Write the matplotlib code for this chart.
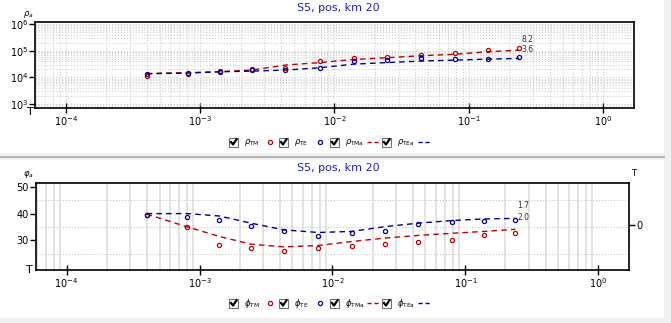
import matplotlib
matplotlib.use("Agg")
import matplotlib.pyplot as plt
from matplotlib.patches import Rectangle
from matplotlib.lines import Line2D
from matplotlib.ticker import LogLocator, FixedLocator, NullFormatter

# ---------------- data ----------------
periods = [4.0e-4, 8.1e-4, 1.41e-3, 2.44e-3, 4.3e-3, 7.8e-3,
           1.39e-2, 2.48e-2, 4.4e-2, 7.9e-2, 0.138, 0.237]
rho_tm = [1.1e4, 1.35e4, 1.7e4, 2.0e4, 2.3e4, 4.1e4,
          5.5e4, 6.0e4, 6.8e4, 8.4e4, 1.05e5, 1.3e5]
rho_te = [1.35e4, 1.4e4, 1.63e4, 1.83e4, 1.83e4, 2.3e4,
          4.1e4, 4.45e4, 5.15e4, 4.7e4, 5.0e4, 6.0e4]
rho_tma = [1.4e4, 1.5e4, 1.63e4, 1.9e4, 2.9e4, 3.6e4,
           4.7e4, 5.5e4, 6.5e4, 7.4e4, 9.2e4, 1.05e5]
rho_tea = [1.37e4, 1.45e4, 1.63e4, 1.72e4, 1.88e4, 2.3e4,
           3.15e4, 3.6e4, 4.1e4, 4.45e4, 4.85e4, 5.15e4]
phi_tm = [39.3, 34.8, 28.3, 26.9, 25.8, 26.9, 28.0, 28.5, 29.5, 30.1, 31.9, 32.6]
phi_te = [39.3, 38.8, 37.5, 35.5, 33.4, 31.4, 32.6, 33.3, 36.0, 36.8, 37.4, 37.6]
phi_tma = [39.8, 35.0, 31.4, 28.5, 27.5, 28.0, 29.5, 30.8, 31.8, 32.6, 33.3, 34.1]
phi_tea = [40.0, 40.0, 39.1, 36.4, 33.9, 32.9, 33.3, 35.1, 36.4, 37.4, 38.0, 38.2]

title = "S5, pos, km 20"
x_ticks = [1e-4, 1e-3, 1e-2, 1e-1, 1e0]
x_ticklabels = [r"$10^{-4}$", r"$10^{-3}$", r"$10^{-2}$", r"$10^{-1}$", r"$10^{0}$"]
rho_ticks = [1e3, 1e4, 1e5, 1e6]
rho_ticklabels = [r"$10^{3}$", r"$10^{4}$", r"$10^{5}$", r"$10^{6}$"]
phi_ticks = [30, 40, 50]
rho_legend = [r"$\rho_{\rm TM}$", r"$\rho_{\rm TE}$", r"$\rho_{\rm TMa}$", r"$\rho_{\rm TEa}$"]
phi_legend = [r"$\phi_{\rm TM}$", r"$\phi_{\rm TE}$", r"$\phi_{\rm TMa}$", r"$\phi_{\rm TEa}$"]
rho_notes = ["8.2", "3.6"]
phi_notes = ["1.7", "2.0"]

RED = "#c00000"
BLUE = "#000090"
W, H = 671, 323

def fx(x):
    return x / W

def fy(y):
    return 1 - y / H

plt.rcParams["font.family"] = ["DejaVu Sans"]
plt.rcParams["mathtext.fontset"] = "dejavusans"

fig = plt.figure(figsize=(W / 100, H / 100), dpi=100)
fig.patch.set_facecolor("white")

# background bands
fig.patches.append(Rectangle((fx(0), fy(160)), fx(671), 7 / H, transform=fig.transFigure,
                             facecolor="#f0f0f0", edgecolor="none", zorder=0))
fig.add_artist(Line2D([fx(0), fx(664)], [fy(157), fy(157)], color="#a8a8a8", lw=1.2))
fig.patches.append(Rectangle((fx(664), 0), 7 / W, 1, transform=fig.transFigure,
                             facecolor="#f0f0f0", edgecolor="none", zorder=0))
fig.patches.append(Rectangle((0, 0), 1, 5 / H, transform=fig.transFigure,
                             facecolor="#f0f0f0", edgecolor="none", zorder=0))

XLIM = (10 ** -4.23, 10 ** 0.23)

def style_x(ax):
    ax.set_xscale("log")
    ax.set_xlim(*XLIM)
    ax.xaxis.set_major_locator(FixedLocator(x_ticks))
    ax.set_xticklabels(x_ticklabels)
    ax.xaxis.set_minor_locator(LogLocator(base=10, subs=range(2, 10)))
    ax.xaxis.set_minor_formatter(NullFormatter())
    ax.tick_params(axis="x", which="major", direction="inout", length=7, width=1,
                   labelsize=7, pad=1)
    ax.tick_params(axis="x", which="minor", length=0)
    for s in ax.spines.values():
        s.set_linewidth(1.2)

# ---------------- top panel ----------------
ax1 = fig.add_axes([fx(35), fy(108), (634 - 35) / W, (108 - 22) / H])
style_x(ax1)
ax1.set_yscale("log")
ax1.set_ylim(10 ** 2.85, 10 ** 6.08)
ax1.yaxis.set_major_locator(FixedLocator(rho_ticks))
ax1.set_yticklabels(rho_ticklabels)
ax1.yaxis.set_minor_locator(LogLocator(base=10, subs=range(2, 10)))
ax1.yaxis.set_minor_formatter(NullFormatter())
ax1.tick_params(axis="y", which="major", direction="out", length=4, width=1,
                labelsize=7, pad=1)
ax1.tick_params(axis="y", which="minor", length=0)
ax1.grid(True, which="both", axis="both", color="#d0d0d0", linestyle=":", linewidth=0.8)
ax1.set_axisbelow(True)

ax1.plot(periods, rho_tma, color=RED, ls=(0, (4, 3)), lw=1)
ax1.plot(periods, rho_tea, color=BLUE, ls=(0, (4, 3)), lw=1)
ax1.plot(periods, rho_tm, ls="none", marker="o", ms=3, mfc="none", mec=RED, mew=0.9)
ax1.plot(periods, rho_te, ls="none", marker="o", ms=3, mfc="none", mec=BLUE, mew=0.9)

fig.text(fx(527), fy(40), rho_notes[0], fontsize=5.5, color="#333333", ha="center", va="center")
fig.text(fx(527), fy(49), rho_notes[1], fontsize=5.5, color="#333333", ha="center", va="center")

fig.text(fx(338), fy(8), title, fontsize=8, color="#2020c0", ha="center", va="center")
fig.text(fx(30), fy(112), "T", fontsize=8, ha="center", va="center")
fig.text(fx(28), fy(14), r"$\rho_a$", fontsize=6, ha="center", va="center")

# ---------------- bottom panel ----------------
ax2 = fig.add_axes([fx(36), fy(270), (629 - 36) / W, (270 - 183) / H])
style_x(ax2)
ax2.set_ylim(18.8, 51.5)
ax2.yaxis.set_major_locator(FixedLocator(phi_ticks))
ax2.yaxis.set_minor_locator(FixedLocator([25, 35, 45]))
ax2.tick_params(axis="y", which="major", direction="out", length=4, width=1,
                labelsize=7, pad=1)
ax2.tick_params(axis="y", which="minor", length=0)
ax2.grid(True, which="minor", axis="x", color="#e0e0e0", linestyle="-", linewidth=1.3)
ax2.grid(True, which="minor", axis="y", color="#c8c8c8", linestyle=":", linewidth=0.8)
ax2.set_axisbelow(True)

ax2.plot(periods, phi_tma, color=RED, ls=(0, (4, 3)), lw=1)
ax2.plot(periods, phi_tea, color=BLUE, ls=(0, (4, 3)), lw=1)
ax2.plot(periods, phi_tm, ls="none", marker="o", ms=3, mfc="none", mec=RED, mew=0.9)
ax2.plot(periods, phi_te, ls="none", marker="o", ms=3, mfc="none", mec=BLUE, mew=0.9)

ax3 = ax2.twinx()
ax3.set_ylim(-1.03, 0.97)
ax3.set_yticks([0])
ax3.set_yticklabels(["0"])
ax3.tick_params(axis="y", direction="out", length=4, width=1, labelsize=7, pad=1)
for s in ax3.spines.values():
    s.set_visible(False)

fig.text(fx(523), fy(206), phi_notes[0], fontsize=5.5, color="#333333", ha="center", va="center")
fig.text(fx(523), fy(217), phi_notes[1], fontsize=5.5, color="#333333", ha="center", va="center")

fig.text(fx(338), fy(168), title, fontsize=8, color="#2020c0", ha="center", va="center")
fig.text(fx(29), fy(270), "T", fontsize=8, ha="center", va="center")
fig.text(fx(634), fy(174), "T", fontsize=6, ha="center", va="center")
fig.text(fx(28), fy(175), r"$\varphi_a$", fontsize=6, ha="center", va="center")

# ---------------- legends (checkbox style) ----------------
def checkbox(x0, y0):
    fig.patches.append(Rectangle((fx(x0), fy(y0 + 9)), 9 / W, 9 / H, transform=fig.transFigure,
                                 facecolor="white", edgecolor="#707070", lw=0.8, zorder=3))
    fig.add_artist(Line2D([fx(x0 + 2), fx(x0 + 4), fx(x0 + 7.5)],
                          [fy(y0 + 4.5), fy(y0 + 7), fy(y0 + 1.8)],
                          color="black", lw=1.6, zorder=4))

def legend_row(yc, labels):
    starts = [229, 279, 330, 382]
    for i, (x0, lab) in enumerate(zip(starts, labels)):
        checkbox(x0, yc - 4.5)
        fig.text(fx(x0 + 15), fy(yc), lab, fontsize=6, ha="left", va="center")
    fig.add_artist(Line2D([fx(270)], [fy(yc)], marker="o", ms=3, mfc="none", mec=RED, mew=0.9, ls="none"))
    fig.add_artist(Line2D([fx(320)], [fy(yc)], marker="o", ms=3, mfc="none", mec=BLUE, mew=0.9, ls="none"))
    fig.add_artist(Line2D([fx(367), fx(379)], [fy(yc), fy(yc)], color=RED, lw=1, ls=(0, (3, 2))))
    fig.add_artist(Line2D([fx(418), fx(430)], [fy(yc), fy(yc)], color=BLUE, lw=1, ls=(0, (3, 2))))

legend_row(142, rho_legend)
legend_row(303, phi_legend)

fig.savefig("out.png", dpi=100)
